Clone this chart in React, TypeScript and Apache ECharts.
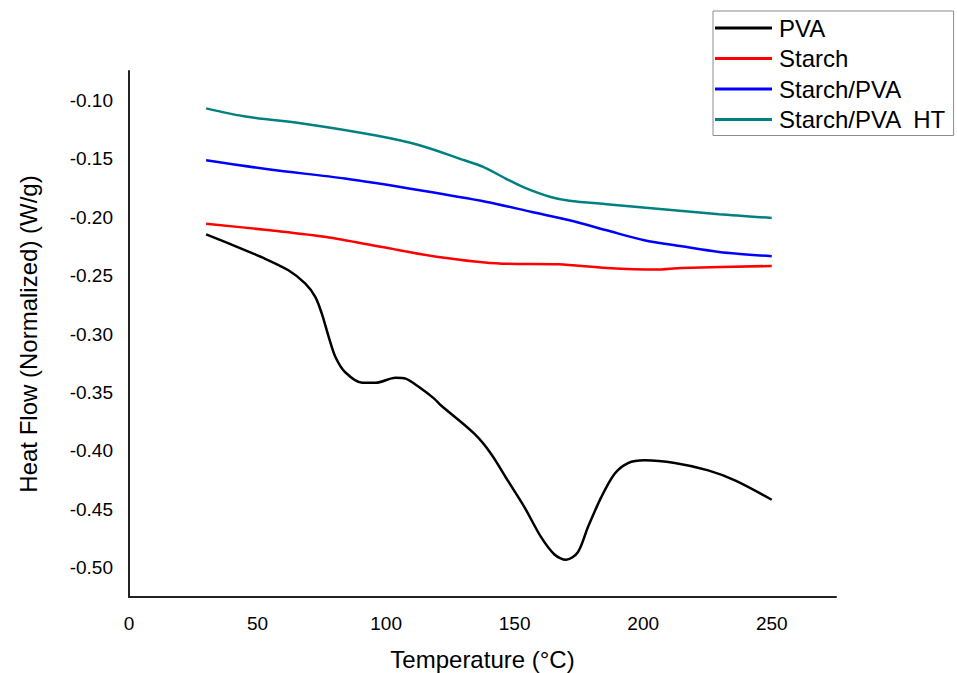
import React, { useEffect, useRef } from "react";
import * as echarts from "echarts";

const seriesNames = ["PVA", "Starch", "Starch/PVA", "Starch/PVA  HT"];
const seriesColors = ["#000000", "#ff0000", "#0000ff", "#008080"];

const pvaT = [30, 39, 52, 62, 68.6, 72.5, 75, 77.7, 80.3, 84, 90.7, 96, 103.7, 107.6, 112.8, 118.7, 121.3, 134.3, 140.8, 147.3, 153.8, 160.3, 165.5, 170, 174.6, 178.5, 183.7, 188.9, 194.1, 200.6, 212.3, 225.3, 235.7, 250];
const pvaV = [-0.2147, -0.2227, -0.2347, -0.2455, -0.2569, -0.2684, -0.2826, -0.3026, -0.3197, -0.3325, -0.3417, -0.3417, -0.3374, -0.3382, -0.3454, -0.3553, -0.361, -0.3853, -0.4024, -0.4253, -0.4481, -0.4738, -0.4886, -0.4932, -0.4867, -0.4653, -0.4396, -0.4196, -0.4104, -0.4081, -0.4104, -0.4167, -0.4253, -0.4418];

const starchT = [30, 54.8, 76.7, 98.5, 120.3, 145.1, 167, 185.8, 204.8, 215, 250];
const starchV = [-0.2056, -0.2113, -0.217, -0.2256, -0.2341, -0.2398, -0.2404, -0.2435, -0.2449, -0.2435, -0.2418];

const blendT = [30, 54.8, 84, 113.1, 139.2, 156.7, 171.3, 185.8, 200.4, 215, 229.5, 250];
const blendV = [-0.1514, -0.1593, -0.167, -0.177, -0.187, -0.1956, -0.2027, -0.2113, -0.2198, -0.225, -0.2298, -0.2335];

const htT = [30, 44.7, 69.4, 95.6, 113, 130.5, 137.8, 146.5, 153.8, 164, 171.3, 185.8, 207.6, 229.5, 250];
const htV = [-0.107, -0.1137, -0.1205, -0.13, -0.1385, -0.1514, -0.157, -0.167, -0.1748, -0.1828, -0.186, -0.189, -0.1933, -0.1976, -0.2007];

const xTitle = "Temperature (°C)";
const yTitle = "Heat Flow (Normalized) (W/g)";

const FONT = "'Liberation Sans', Arial, sans-serif";

function pairs(t: number[], v: number[]) {
  return t.map((x, i) => [x, v[i]]);
}

export default function App() {
  const ref = useRef<HTMLDivElement>(null);
  useEffect(() => {
    if (!ref.current) return;
    const chart = echarts.init(ref.current, null, { renderer: "svg" });
    const all = [pairs(pvaT, pvaV), pairs(starchT, starchV), pairs(blendT, blendV), pairs(htT, htV)];
    chart.setOption({
      animation: false,
      backgroundColor: "#ffffff",
      textStyle: { fontFamily: FONT },
      grid: { left: 129, top: 71, right: 121, bottom: 76, containLabel: false, outerBoundsMode: "none" },
      legend: {
        orient: "vertical",
        left: 713,
        top: 11,
        padding: [5, 7, 4, 2],
        icon: "rect",
        itemWidth: 57,
        itemHeight: 3,
        itemGap: 6.5,
        borderColor: "#8c8c8c",
        borderWidth: 1,
        borderRadius: 0,
        backgroundColor: "#ffffff",
        textStyle: { fontSize: 24, color: "#000", fontFamily: FONT, padding: [0, 0, 0, 2] },
        data: seriesNames,
      },
      xAxis: {
        type: "value",
        min: 0,
        max: 275,
        interval: 50,
        name: xTitle,
        nameLocation: "middle",
        nameGap: 50,
        nameTextStyle: { fontSize: 24, color: "#000", fontFamily: FONT },
        axisLine: { show: true, onZero: false, lineStyle: { color: "#222", width: 2 } },
        axisTick: { show: false },
        splitLine: { show: false },
        axisLabel: { fontSize: 19, color: "#000", margin: 17, showMaxLabel: false, fontFamily: FONT },
      },
      yAxis: {
        type: "value",
        min: -0.525,
        max: -0.075,
        splitNumber: 9,
        name: yTitle,
        nameLocation: "middle",
        nameGap: 89,
        nameTextStyle: { fontSize: 24, color: "#000", fontFamily: FONT },
        axisLine: { show: true, onZero: false, lineStyle: { color: "#222", width: 2 } },
        axisTick: { show: false },
        splitLine: { show: false },
        axisLabel: {
          fontSize: 19,
          color: "#000",
          margin: 16,
          showMinLabel: false,
          showMaxLabel: false,
          fontFamily: FONT,
          formatter: (v: number) => v.toFixed(2),
        },
      },
      series: all.map((d, i) => ({
        name: seriesNames[i],
        type: "line",
        data: d,
        symbol: "none",
        smooth: 0.3,
        lineStyle: { color: seriesColors[i], width: 2.5 },
        itemStyle: { color: seriesColors[i] },
      })),
    });
    return () => chart.dispose();
  }, []);
  return (
    <div
      ref={ref}
      style={{ position: "absolute", left: 0, top: 0, width: 957, height: 673, background: "#fff" }}
    />
  );
}
